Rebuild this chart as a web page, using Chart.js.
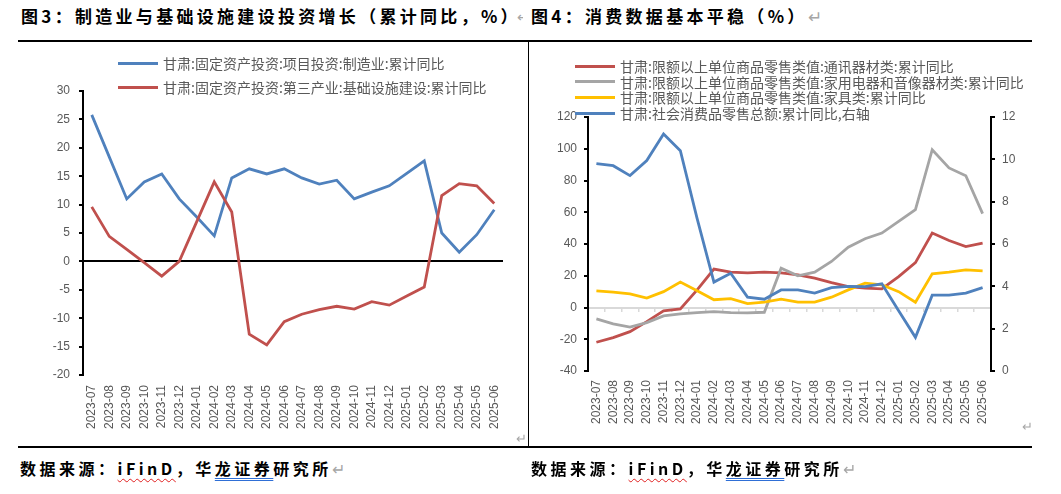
<!DOCTYPE html>
<html>
<head>
<meta charset="utf-8">
<script src="https://cdn.jsdelivr.net/npm/chart.js@4.4.1/dist/chart.umd.min.js"></script>
<style>
  html, body { margin:0; padding:0; background:#fff; }
  body { width:1061px; height:494px; position:relative; overflow:hidden;
         font-family:"Noto Sans CJK SC","Liberation Sans",sans-serif; }
  .title { position:absolute; top:3px; font-size:17px; font-weight:700; letter-spacing:3.3px; color:#000; white-space:nowrap; }
  .src { position:absolute; top:456px; font-size:16px; font-weight:700; letter-spacing:3.5px; color:#000; white-space:nowrap; }
  .ret { color:#a6a6a6; font-weight:400; letter-spacing:0; }
  .hline { position:absolute; height:1.5px; background:#000; }
  .vline { position:absolute; width:1.5px; background:#000; }
  .box { position:absolute; }
  .legend { position:absolute; font-size:14px; color:#595959; white-space:nowrap; }
  .legend .row { position:relative; height:16px; line-height:16px; }
  .legend .sw { position:absolute; left:0; top:6.5px; width:40px; height:3px; }
  .legend .tx { position:absolute; left:45px; top:0; }
  .wavy { text-decoration:underline wavy #e02020; text-decoration-thickness:1px; text-underline-offset:3px; }
  .dbl { text-decoration:underline double #2f6fd6; text-decoration-thickness:1px; text-underline-offset:3px; }
</style>
</head>
<body>
<div class="title" style="left:21px;">图3：制造业与基础设施建设投资增长（累计同比，%）</div>
<div style="position:absolute; left:517px; top:6px; width:6px; height:22px; overflow:hidden; font-size:14px;"><span class="ret">↵</span></div>
<div class="title" style="left:531px;">图4：消费数据基本平稳（%）<span class="ret">↵</span></div>

<div class="hline" style="left:18px; top:40px; width:1014px;"></div>
<div class="hline" style="left:18px; top:446px; width:1014px;"></div>
<div class="vline" style="left:527.5px; top:40px; height:407px;"></div>

<div class="box" style="left:0px; top:41px; width:527px; height:405px;"><canvas id="invChart"></canvas></div>
<div class="box" style="left:530px; top:41px; width:502px; height:405px;"><canvas id="conChart"></canvas></div>

<div class="legend" id="invLegend" style="left:118px; top:55px;"></div>
<div class="legend" id="conLegend" style="left:575px; top:58px;"></div>

<div class="ret" style="position:absolute; left:516px; top:428px; font-size:13px;">↵</div>
<div class="ret" style="position:absolute; left:1022px; top:416px; font-size:13px;">↵</div>

<div class="src" style="left:20px;">数据来源：<span class="wavy">iFinD</span>，华<span class="dbl">龙证券</span>研究所<span class="ret">↵</span></div>
<div class="src" style="left:531px;">数据来源：<span class="wavy">iFinD</span>，华<span class="dbl">龙证券</span>研究所<span class="ret">↵</span></div>

<script>
// Categories
const months = ['2023-07','2023-08','2023-09','2023-10','2023-11','2023-12',
  '2024-01','2024-02','2024-03','2024-04','2024-05','2024-06',
  '2024-07','2024-08','2024-09','2024-10','2024-11','2024-12',
  '2025-01','2025-02','2025-03','2025-04','2025-05','2025-06'];

// 图3 series (%)
const manufacturing = [25.8, 18.4, 11.0, 14.0, 15.4, 11.0, 7.8, 4.5, 14.7, 16.3, 15.4, 16.3,
  14.7, 13.6, 14.3, 11.0, 12.2, 13.3, 15.5, 17.7, 5.0, 1.6, 4.7, 9.1];
const infrastructure = [9.6, 4.4, 2.1, -0.2, -2.6, 0.0, 7.0, 14.0, 8.7, -12.8, -14.7, -10.6,
  -9.3, -8.5, -7.9, -8.4, -7.1, -7.7, -6.1, -4.5, 11.6, 13.7, 13.3, 10.2];

// 图4 series (%)
const commEquip = [-21.9, -19.0, -15.2, -8.9, -2.1, -0.9, 11.1, 24.2, 22.3, 21.8, 22.3, 21.8,
  20.6, 18.5, 15.7, 13.2, 12.2, 11.7, 19.5, 28.3, 46.9, 42.2, 38.4, 40.6];
const appliances = [-7.2, -10.3, -12.4, -9.5, -5.3, -4.0, -3.2, -2.6, -3.2, -3.4, -3.0, 24.8,
  20.0, 22.3, 29.0, 38.0, 43.3, 46.9, 54.2, 61.6, 99.4, 87.9, 83.0, 59.1];
const furniture = [10.5, 9.7, 8.6, 5.9, 10.0, 16.0, 10.5, 4.9, 5.6, 2.4, 3.4, 5.3,
  3.4, 3.4, 6.5, 11.1, 15.3, 14.3, 10.0, 3.3, 21.2, 22.3, 23.7, 23.1];
const retailTotal = [9.80, 9.70, 9.23, 9.94, 11.20, 10.41, 7.20, 4.20, 4.62, 3.49, 3.39, 3.83,
  3.83, 3.68, 3.94, 4.00, 3.99, 4.12, 2.85, 1.59, 3.58, 3.58, 3.68, 3.94];

// Series names
const invNames = ['甘肃:固定资产投资:项目投资:制造业:累计同比',
  '甘肃:固定资产投资:第三产业:基础设施建设:累计同比'];
const conNames = ['甘肃:限额以上单位商品零售类值:通讯器材类:累计同比',
  '甘肃:限额以上单位商品零售类值:家用电器和音像器材类:累计同比',
  '甘肃:限额以上单位商品零售类值:家具类:累计同比',
  '甘肃:社会消费品零售总额:累计同比,右轴'];

// Tick labels
const invTicks = [30, 25, 20, 15, 10, 5, 0, -5, -10, -15, -20];
const conTicksLeft = [120, 100, 80, 60, 40, 20, 0, -20, -40];
const conTicksRight = [12, 10, 8, 6, 4, 2, 0];

const BLUE = '#4f81bd', RED = '#c0504d', GREY = '#a5a5a5', GOLD = '#ffc000';
const tickFont = { family: '"Liberation Sans", Arial, sans-serif', size: 12 };
const tickGrey = '#595959';

function buildLegend(el, names, colors, rowH){
  el.innerHTML = names.map((n, i) => `
    <div class="row" style="height:${rowH}px">
      <div class="sw" style="background:${colors[i]}"></div>
      <div class="tx">${n}</div>
    </div>`).join('');
}
buildLegend(document.getElementById('invLegend'), invNames, [BLUE, RED], 24);
buildLegend(document.getElementById('conLegend'), conNames, [RED, GREY, GOLD, BLUE], 15.7);

function line(label, data, color, extra){
  return Object.assign({ label, data, borderColor: color, backgroundColor: color,
    borderWidth: 2.8, pointRadius: 0, tension: 0, fill: false }, extra || {});
}

function fixedTicks(list){
  return function(scale){ scale.ticks = list.map(v => ({ value: v })); };
}

// 图3
new Chart(document.getElementById('invChart'), {
  type: 'line',
  data: {
    labels: months,
    datasets: [
      line(invNames[0], manufacturing, BLUE, { order: 2 }),
      line(invNames[1], infrastructure, RED, { order: 1 })
    ]
  },
  options: {
    responsive: true, maintainAspectRatio: false, animation: false,
    layout: { padding: { left: 0, right: 24, top: 50, bottom: 0 } },
    plugins: { legend: { display: false }, tooltip: { enabled: false } },
    scales: {
      x: {
        offset: true,
        grid: { display: false, drawTicks: false },
        border: { display: false },
        ticks: { autoSkip: false, maxRotation: 90, minRotation: 90, padding: 10, color: tickGrey, font: tickFont },
        afterFit: s => { s.height = 71; }
      },
      y: {
        min: -20, max: 30,
        afterBuildTicks: fixedTicks(invTicks),
        grid: {
          color: c => c.tick && c.tick.value === 0 ? '#000' : 'rgba(0,0,0,0)',
          tickColor: '#000', lineWidth: 2, tickLength: 4
        },
        border: { display: true, color: '#000', width: 2 },
        ticks: { padding: 9, color: tickGrey, font: tickFont },
        afterFit: s => { s.width = 83; }
      }
    }
  }
});

// 图4
new Chart(document.getElementById('conChart'), {
  type: 'line',
  data: {
    labels: months,
    datasets: [
      line(conNames[0], commEquip, RED, { order: 4, yAxisID: 'y' }),
      line(conNames[1], appliances, GREY, { order: 3, yAxisID: 'y' }),
      line(conNames[2], furniture, GOLD, { order: 2, yAxisID: 'y' }),
      line(conNames[3], retailTotal, BLUE, { order: 1, yAxisID: 'y1' })
    ]
  },
  options: {
    responsive: true, maintainAspectRatio: false, animation: false,
    layout: { padding: { left: 0, right: 0, top: 76, bottom: 0 } },
    plugins: { legend: { display: false }, tooltip: { enabled: false } },
    scales: {
      x: {
        offset: true,
        grid: { display: false, drawTicks: false },
        border: { display: false },
        ticks: { autoSkip: false, maxRotation: 90, minRotation: 90, padding: 9, color: tickGrey, font: tickFont },
        afterFit: s => { s.height = 75; }
      },
      x2: {
        type: 'category', axis: 'x', labels: months, offset: true,
        position: { y: 0 },
        grid: { display: true, offset: true, drawOnChartArea: false, drawTicks: true,
                tickLength: 4, color: '#d9d9d9', lineWidth: 1.5 },
        border: { display: false },
        ticks: { display: false }
      },
      y: {
        position: 'left', min: -40, max: 120,
        afterBuildTicks: fixedTicks(conTicksLeft),
        grid: {
          color: c => c.tick && c.tick.value === 0 ? '#d9d9d9' : 'rgba(0,0,0,0)',
          tickColor: '#000', lineWidth: 2, tickLength: 4
        },
        border: { display: true, color: '#000', width: 2 },
        ticks: { padding: 7, color: tickGrey, font: tickFont },
        afterFit: s => { s.width = 58; }
      },
      y1: {
        position: 'right', min: 0, max: 12,
        afterBuildTicks: fixedTicks(conTicksRight),
        grid: { drawOnChartArea: false, tickColor: '#000', lineWidth: 2, tickLength: 4 },
        border: { display: true, color: '#000', width: 2 },
        ticks: { padding: 7, color: tickGrey, font: tickFont },
        afterFit: s => { s.width = 41; }
      }
    }
  }
});
</script>
</body>
</html>
